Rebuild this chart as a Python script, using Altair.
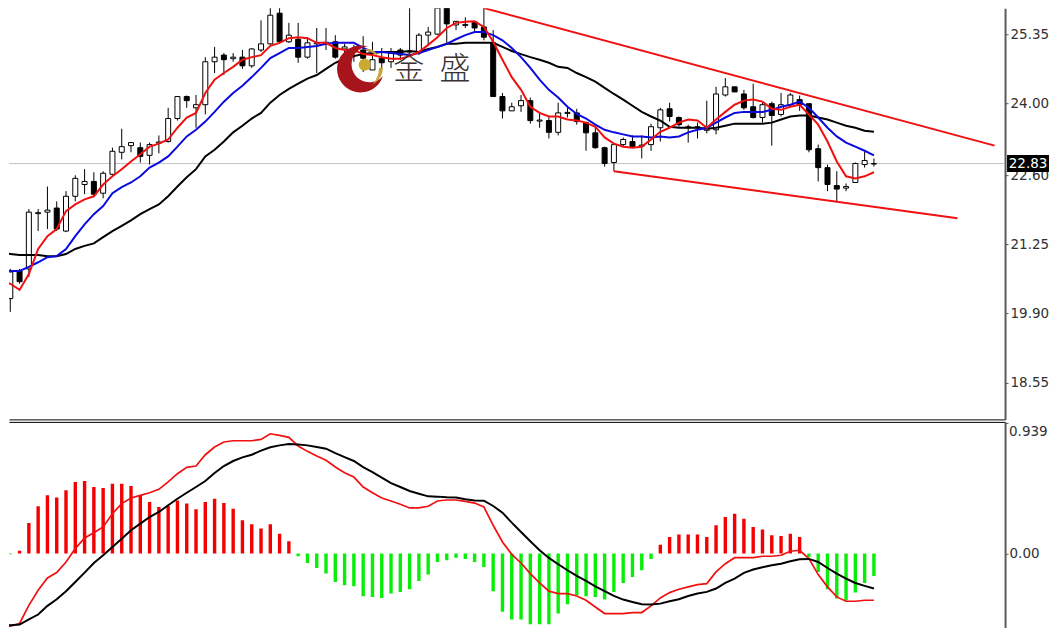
import altair as alt
import pandas as pd

opens = [20.15,20.19,20.73,20.77,21.85,21.88,21.96,21.51,22.19,22.42,22.48,22.25,22.62,23.05,23.18,23.14,22.99,23.23,23.26,23.71,
         24.14,23.92,23.98,24.82,24.95,24.88,24.91,24.74,25.05,25.17,25.77,25.21,25.26,24.91,25.17,25.18,25.21,25.07,25.01,25.05,
         24.66,24.89,24.82,25.05,25.01,24.99,25.34,25.36,25.87,25.54,25.53,25.60,25.50,25.19,24.14,23.86,23.96,24.06,23.66,23.67,
         23.44,23.81,23.82,23.63,23.43,23.14,22.85,23.20,23.26,23.17,23.20,23.53,23.90,23.73,23.53,23.53,23.48,23.49,24.17,24.33,
         24.19,23.94,23.73,24.00,23.79,23.98,24.08,24.00,23.12,22.75,22.40,22.35,22.46,22.81,22.82]
highs = [20.26,20.77,20.77,21.94,21.94,22.38,22.09,22.29,22.60,22.72,22.66,22.68,23.14,23.51,23.24,23.24,23.24,23.38,23.92,24.14,
         24.16,24.17,24.91,25.11,24.99,24.99,25.05,25.09,25.63,25.93,26.02,25.58,25.58,25.30,25.48,25.48,25.34,25.17,25.15,25.32,
         25.21,25.09,25.09,25.09,25.87,25.38,25.50,25.93,26.02,25.61,25.69,25.61,25.87,25.44,24.21,24.02,24.17,24.12,23.84,23.75,
         24.02,23.92,23.90,23.65,23.57,23.16,23.20,23.34,23.38,23.38,23.61,23.92,24.02,23.75,23.59,23.63,24.06,24.33,24.50,24.33,
         24.27,24.39,24.02,24.04,24.21,24.21,24.16,24.00,23.20,22.81,22.68,22.44,22.85,23.07,22.93]
lows = [20.11,19.93,20.48,20.61,21.51,21.55,21.51,21.49,22.09,22.23,22.19,22.15,22.58,22.91,23.05,22.85,22.81,23.03,23.24,23.67,
        23.92,23.53,23.79,24.60,24.56,24.82,24.68,24.70,25.01,25.15,25.19,25.19,24.80,24.88,24.60,25.05,24.88,24.89,24.82,24.62,
        24.66,24.70,24.70,24.86,24.91,24.95,25.15,25.34,25.15,25.44,25.48,25.40,25.24,24.14,23.71,23.86,23.84,23.61,23.53,23.32,
        23.38,23.73,23.59,23.08,23.12,22.77,22.68,23.16,23.14,22.93,23.08,23.26,23.65,23.55,23.24,23.32,23.42,23.40,24.14,24.23,
        23.88,23.71,23.63,23.18,23.75,23.94,23.86,23.05,22.48,22.29,22.09,22.29,22.46,22.75,22.77]
closes = [20.22,20.71,20.52,21.88,21.87,21.92,21.55,22.19,22.54,22.48,22.23,22.64,23.07,23.16,23.24,22.97,23.20,23.25,23.71,24.14,
          24.06,23.98,24.82,24.91,24.86,24.91,24.74,25.07,25.17,25.73,25.21,25.34,24.91,25.19,25.19,25.20,24.91,25.11,25.05,24.89,
          24.86,24.80,24.99,24.95,25.03,25.34,25.40,25.87,25.56,25.61,25.55,25.48,25.30,24.14,23.86,23.94,24.06,23.67,23.68,23.44,
          23.82,23.83,23.65,23.43,23.14,22.83,23.20,23.30,23.16,23.19,23.55,23.88,23.75,23.59,23.55,23.55,23.53,24.19,24.33,24.23,
          23.92,23.73,23.98,23.77,23.98,24.17,23.98,23.10,22.75,22.42,22.33,22.38,22.83,22.89,22.83]

ma_red = [20.57,20.48,20.36,20.67,21.16,21.41,21.55,21.90,22.03,22.13,22.19,22.42,22.58,22.72,22.87,23.01,23.16,23.22,23.30,23.53,
          23.73,23.82,24.21,24.47,24.60,24.72,24.86,24.91,24.95,25.13,25.19,25.28,25.30,25.28,25.19,25.19,25.09,25.05,25.05,24.97,
          24.95,24.91,24.88,24.88,24.93,25.01,25.15,25.30,25.48,25.58,25.60,25.61,25.50,25.21,24.86,24.52,24.27,23.94,23.82,23.75,
          23.75,23.69,23.67,23.63,23.55,23.34,23.22,23.16,23.14,23.16,23.30,23.45,23.53,23.63,23.69,23.67,23.53,23.69,23.84,23.98,
          24.06,24.08,24.04,23.90,23.88,23.94,23.98,23.79,23.59,23.26,22.87,22.58,22.54,22.58,22.66]
ma_blue = [20.75,20.73,20.73,20.81,20.90,21.00,21.02,21.16,21.41,21.64,21.84,22.00,22.25,22.37,22.46,22.58,22.75,22.85,22.97,23.16,
           23.36,23.49,23.65,23.84,24.04,24.21,24.35,24.52,24.70,24.89,24.99,25.09,25.09,25.11,25.13,25.17,25.19,25.19,25.19,25.09,
           25.01,25.01,24.99,24.97,24.95,24.99,25.05,25.11,25.17,25.26,25.34,25.40,25.40,25.34,25.24,25.09,24.91,24.70,24.47,24.27,
           24.12,23.94,23.80,23.71,23.59,23.49,23.44,23.40,23.36,23.36,23.34,23.36,23.34,23.36,23.44,23.49,23.53,23.63,23.73,23.82,
           23.84,23.84,23.84,23.88,23.94,23.98,24.04,23.92,23.73,23.53,23.36,23.24,23.16,23.08,22.99]
ma_black = [21.12,21.06,21.04,21.04,21.04,21.02,21.02,21.06,21.16,21.22,21.27,21.39,21.51,21.61,21.72,21.84,21.94,22.03,22.19,22.38,
            22.56,22.72,22.97,23.10,23.26,23.44,23.57,23.71,23.82,24.02,24.17,24.29,24.39,24.49,24.56,24.68,24.80,24.88,24.93,24.97,
            24.99,25.01,25.01,25.01,25.03,25.01,25.07,25.11,25.17,25.17,25.19,25.19,25.19,25.19,25.11,25.03,24.97,24.91,24.86,24.80,
            24.72,24.70,24.60,24.52,24.43,24.31,24.19,24.08,23.96,23.84,23.75,23.67,23.55,23.53,23.53,23.53,23.51,23.53,23.57,23.61,
            23.61,23.61,23.61,23.63,23.69,23.75,23.77,23.77,23.73,23.69,23.63,23.57,23.53,23.47,23.45]

hist = [-0.07,-0.005,0.02,0.219,0.339,0.417,0.401,0.453,0.513,0.52,0.477,0.47,0.50,0.50,0.484,0.417,0.37,0.334,0.341,0.381,
        0.358,0.317,0.37,0.393,0.362,0.322,0.238,0.21,0.179,0.21,0.143,0.088,-0.019,-0.067,-0.103,-0.143,-0.203,-0.227,-0.234,-0.305,
        -0.31,-0.317,-0.286,-0.274,-0.255,-0.196,-0.15,-0.06,-0.048,-0.029,-0.038,-0.06,-0.095,-0.269,-0.417,-0.472,-0.472,-0.505,-0.505,-0.505,
        -0.429,-0.362,-0.298,-0.305,-0.31,-0.329,-0.274,-0.21,-0.167,-0.119,-0.038,0.064,0.119,0.136,0.136,0.136,0.119,0.203,0.262,0.286,
        0.25,0.191,0.172,0.131,0.126,0.143,0.119,-0.024,-0.131,-0.255,-0.322,-0.334,-0.279,-0.21,-0.16]
macd_red = [-0.517,-0.52,-0.50,-0.37,-0.262,-0.174,-0.136,-0.06,0.036,0.112,0.15,0.191,0.286,0.358,0.398,0.417,0.436,0.46,0.513,0.572,
            0.618,0.627,0.708,0.763,0.799,0.808,0.808,0.808,0.818,0.858,0.846,0.832,0.77,0.732,0.699,0.668,0.62,0.579,0.548,0.477,
            0.436,0.398,0.377,0.353,0.327,0.327,0.339,0.377,0.384,0.384,0.374,0.362,0.334,0.203,0.083,-0.005,-0.067,-0.143,-0.21,-0.269,
            -0.286,-0.286,-0.303,-0.334,-0.382,-0.429,-0.429,-0.429,-0.422,-0.422,-0.374,-0.317,-0.279,-0.255,-0.238,-0.222,-0.215,-0.131,-0.072,-0.029,
            -0.029,-0.029,-0.019,-0.019,-0.012,0.017,0.024,-0.036,-0.15,-0.238,-0.31,-0.341,-0.341,-0.334,-0.334]
macd_black = [-0.513,-0.513,-0.508,-0.47,-0.436,-0.374,-0.327,-0.269,-0.203,-0.136,-0.067,-0.012,0.048,0.107,0.167,0.215,0.262,0.298,0.346,0.393,
              0.436,0.477,0.52,0.577,0.627,0.663,0.689,0.708,0.737,0.761,0.775,0.784,0.782,0.775,0.763,0.751,0.72,0.691,0.663,0.62,
              0.584,0.544,0.505,0.477,0.448,0.429,0.41,0.408,0.403,0.401,0.389,0.381,0.379,0.341,0.293,0.222,0.155,0.088,0.024,-0.031,
              -0.076,-0.119,-0.16,-0.196,-0.234,-0.269,-0.303,-0.329,-0.346,-0.362,-0.365,-0.358,-0.341,-0.327,-0.303,-0.286,-0.274,-0.25,-0.21,-0.179,
              -0.138,-0.114,-0.098,-0.083,-0.072,-0.055,-0.041,-0.038,-0.06,-0.103,-0.143,-0.179,-0.21,-0.231,-0.25]

upper_k = [52, 107]
upper_v = [25.87, 23.18]
lower_k = [66, 103]
lower_v = [22.68, 21.76]
price_ticks = [25.35, 24.00, 22.60, 21.25, 19.90, 18.55]
last_price = 22.83
macd_top = 0.939
logo_chars = ["金", "盛"]
logo_char_k = [43.9, 48.9]

n = len(opens)
k = list(range(n))
candles = pd.DataFrame({"k": k, "open": opens, "high": highs, "low": lows, "close": closes})
up = candles[candles.close >= candles.open]
down = candles[candles.close < candles.open]
lines = pd.DataFrame({"k": k, "red": ma_red, "blue": ma_blue, "black": ma_black})
macd = pd.DataFrame({"k": k, "hist": hist, "red": macd_red, "black": macd_black, "zero": [0.0] * n})
FONT = "DejaVu Sans"
LABEL_SIZE = 13.5
x_scale = alt.Scale(domain=[0.861, 108.12], nice=False, zero=False, padding=0)


def X(field="k"):
    return alt.X(f"{field}:Q", scale=x_scale, title=None,
                 axis=alt.Axis(labels=False, ticks=False, grid=False, domain=True, domainColor="#000000",
                               domainWidth=1, orient="bottom"))


y_scale = alt.Scale(domain=[17.828, 25.865], nice=False, zero=False)


def Y(field):
    return alt.Y(f"{field}:Q", scale=y_scale, title=None,
                 axis=alt.Axis(orient="right", values=price_ticks, format=".2f", grid=False, domainColor="#5a5a5a",
                               domainWidth=2, tickColor="#5a5a5a", tickSize=3, labelPadding=2, labelFont=FONT,
                               labelFontSize=LABEL_SIZE, labelColor="#303030", labelOverlap=False, labelFlush=False))


def line(df, field, color, width=2.0):
    return alt.Chart(df).mark_line(color=color, strokeWidth=width, clip=True).encode(x=X(), y=Y(field))


def trend(ks, vs):
    d = pd.DataFrame({"k": ks, "v": vs})
    return alt.Chart(d).mark_line(color="#f01010", strokeWidth=2, clip=True).encode(x=X(), y=Y("v"))


wicks = alt.Chart(candles).mark_rule(color="#000000", strokeWidth=1, clip=True).encode(
    x=X(), y=Y("low"), y2="high:Q")
body_up = alt.Chart(up).mark_bar(orient="vertical", size=5, fill="#ffffff", stroke="#000000", strokeWidth=1, clip=True).encode(
    x=X(), y=Y("open"), y2="close:Q")
body_down = alt.Chart(down).mark_bar(orient="vertical", size=5, fill="#000000", stroke="#000000", strokeWidth=1, clip=True).encode(
    x=X(), y=Y("open"), y2="close:Q")

price_df = pd.DataFrame({"v": [last_price], "label": [f"{last_price:.2f}"]})
price_rule = alt.Chart(price_df).mark_rule(color="#c4c4c4", strokeWidth=1).encode(
    x=alt.value(0), x2=alt.value(997), y=Y("v"))
price_box = alt.Chart(price_df).mark_rect(color="#000000", width=42, height=17, clip=False).encode(
    x=alt.value(1020), y=Y("v"))
price_text = alt.Chart(price_df).mark_text(color="#ffffff", font=FONT, fontSize=LABEL_SIZE, align="center", baseline="middle").encode(
    x=alt.value(1020), y=Y("v"), text="label:N")

logo_pos = pd.DataFrame({"k": [38.73], "v": [24.68]})
ball_pos = pd.DataFrame({"k": [39.16], "v": [24.76]})
crescent = alt.Chart(logo_pos).mark_point(
    shape="M0.3,-0.95 A1,1 0 1,0 0.95,0.3 A0.76,0.76 0 1,1 0.3,-0.95 Z",
    size=2209, filled=True, fill="#a8141c", opacity=1, strokeWidth=0).encode(x=X(), y=Y("v"))
swoosh = alt.Chart(logo_pos).mark_point(
    shape="M0.15,-0.85 Q0.55,-0.9 0.75,-0.55 Q0.45,-0.72 0.15,-0.85 Z M0.95,-0.05 Q0.95,0.4 0.5,0.68 Q0.8,0.3 0.78,-0.05 Z",
    size=2209, filled=True, fill="#c8a63a", opacity=1, strokeWidth=0).encode(x=X(), y=Y("v"))
ball = alt.Chart(ball_pos).mark_point(shape="circle", size=144, filled=True, fill="#c9a92e", opacity=1).encode(x=X(), y=Y("v"))
logo_text_df = pd.DataFrame({"k": logo_char_k, "v": [24.65, 24.65], "t": logo_chars})
logo_text = alt.Chart(logo_text_df).mark_text(font="Noto Sans CJK SC", fontSize=31, fontWeight=300, color="#3a3232",
                                              align="center", baseline="middle").encode(x=X(), y=Y("v"), text="t:N")

top = alt.layer(
    price_rule, wicks, body_up, body_down,
    line(lines, "black", "#000000"), line(lines, "blue", "#0a0adf"), line(lines, "red", "#f01010"),
    trend(upper_k, upper_v), trend(lower_k, lower_v),
    crescent, swoosh, ball, logo_text, price_box, price_text,
).properties(width=997, height=411.5)

macd_scale = alt.Scale(domain=[-0.534, 0.943], nice=False, zero=False)


def MY(field):
    return alt.Y(f"{field}:Q", scale=macd_scale, title=None,
                 axis=alt.Axis(orient="right", values=[0.0, macd_top], format=".2f", grid=False, domainColor="#5a5a5a",
                               domainWidth=2, tickColor="#5a5a5a", tickSize=3, labelPadding=1, labelFont=FONT,
                               labelFontSize=LABEL_SIZE, labelColor="#303030",
                               labelExpr="datum.value == 0 ? '0.00' : ''", labelOverlap=False, labelFlush=False))


def MX():
    return alt.X("k:Q", scale=x_scale, title=None,
                 axis=alt.Axis(labels=False, ticks=False, grid=False, domain=True, domainColor="#000000",
                               domainWidth=1, orient="top"))


h_pos = macd[macd["hist"] >= 0]
h_neg = macd[macd["hist"] < 0]
bars_pos = alt.Chart(h_pos).mark_bar(orient="vertical", size=3.4, color="#f40000", clip=True).encode(x=MX(), y=MY("hist"), y2="zero:Q")
bars_neg = alt.Chart(h_neg).mark_bar(orient="vertical", size=3.4, color="#08ee08", clip=True).encode(x=MX(), y=MY("hist"), y2="zero:Q")
macd_line_red = alt.Chart(macd).mark_line(color="#f01010", strokeWidth=1.7, clip=True).encode(x=MX(), y=MY("red"))
macd_line_black = alt.Chart(macd).mark_line(color="#000000", strokeWidth=2, clip=True).encode(x=MX(), y=MY("black"))
top_label = alt.Chart(pd.DataFrame({"v": [macd_top], "label": ["0.939"]})).mark_text(
    font=FONT, fontSize=LABEL_SIZE, color="#303030", align="left", baseline="top", dy=3).encode(
    x=alt.value(1001), y=MY("v"), text="label:N")

bottom = alt.layer(bars_pos, bars_neg, macd_line_red, macd_line_black, top_label).properties(width=997, height=206.5)

chart = alt.vconcat(top, bottom, spacing=2, bounds="flush").properties(padding=0, background="#ffffff").configure_view(stroke=None)

chart.save("out.html", embed_options={"renderer": "svg", "actions": False})
